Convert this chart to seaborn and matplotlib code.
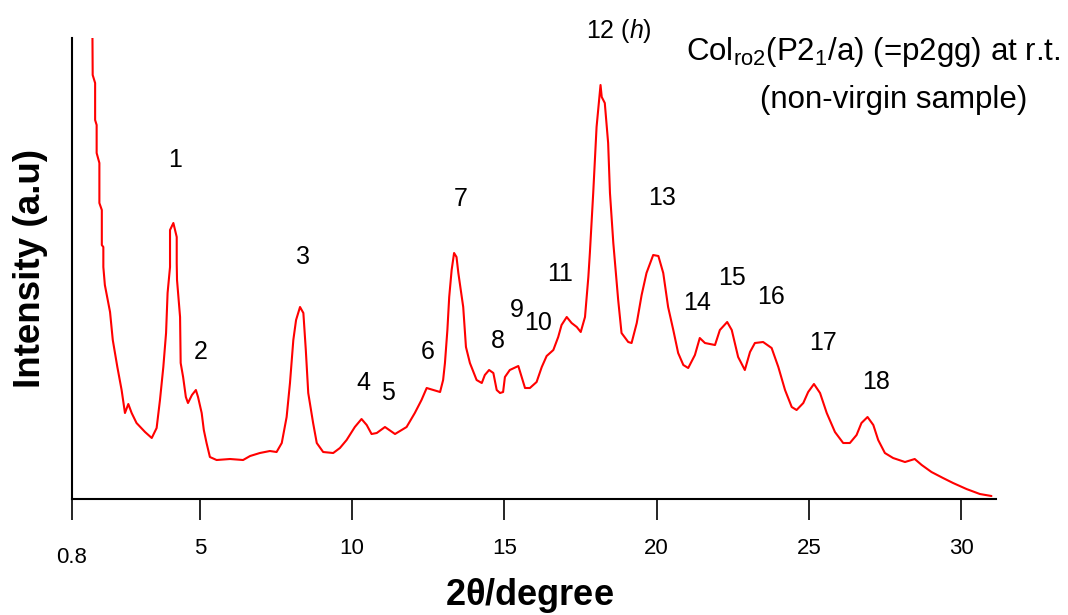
import numpy as np
import pandas as pd
import seaborn as sns
import matplotlib
matplotlib.use("Agg")
import matplotlib.pyplot as plt
import matplotlib.transforms as mtransforms

# XRD trace (2theta in degree, intensity in arbitrary units)
two_theta = [1.47, 1.48, 1.56, 1.56, 1.61, 1.61, 1.70, 1.70, 1.78, 1.78, 1.83, 1.83,
             1.88, 2.05, 2.14, 2.29, 2.43, 2.54, 2.65, 2.76, 2.92, 3.20, 3.42, 3.58,
             3.69, 3.80, 3.89, 3.94, 4.02, 4.02, 4.13, 4.24, 4.24, 4.25, 4.35, 4.37,
             4.45, 4.54, 4.61, 4.74, 4.87, 4.94, 5.06, 5.13, 5.22, 5.33, 5.55, 5.99,
             6.42, 6.65, 6.97, 7.30, 7.52, 7.69, 7.85, 7.96, 8.07, 8.16, 8.29, 8.40,
             8.48, 8.56, 8.72, 8.84, 9.05, 9.38, 9.60, 9.82, 10.09, 10.31, 10.48, 10.64,
             10.81, 11.08, 11.41, 11.79, 12.06, 12.28, 12.45, 12.89, 12.99, 13.05, 13.13,
             13.19, 13.27, 13.35, 13.43, 13.49, 13.65, 13.74, 13.87, 14.09, 14.26, 14.36,
             14.50, 14.64, 14.75, 14.86, 14.96, 15.02, 15.18, 15.46, 15.57, 15.68, 15.84,
             16.06, 16.23, 16.39, 16.61, 16.77, 16.88, 17.05, 17.21, 17.38, 17.51, 17.65,
             17.76, 17.81, 17.92, 18.03, 18.16, 18.20, 18.30, 18.41, 18.47, 18.58, 18.74,
             18.85, 19.07, 19.18, 19.35, 19.51, 19.67, 19.89, 20.06, 20.22, 20.38, 20.55,
             20.71, 20.88, 21.04, 21.26, 21.42, 21.59, 21.92, 22.08, 22.32, 22.47, 22.68,
             22.90, 23.07, 23.23, 23.50, 23.78, 24.00, 24.22, 24.44, 24.60, 24.82, 24.98,
             25.17, 25.37, 25.59, 25.86, 26.13, 26.35, 26.57, 26.73, 26.93, 27.12, 27.28,
             27.50, 27.77, 28.16, 28.48, 28.71, 29.03, 29.41, 29.74, 30.18, 30.62, 31.00]
intensity = [474, 424, 416, 379, 374, 346, 336, 296, 289, 254, 252, 232,
             214, 187, 159, 132, 109, 86, 95, 86, 76, 67, 61, 71,
             99, 132, 166, 206, 232, 269, 276, 262, 236, 219, 182, 136,
             122, 102, 96, 104, 109, 102, 86, 69, 56, 42, 39, 40,
             39, 43, 46, 48, 47, 56, 82, 116, 159, 179, 192, 186,
             149, 106, 76, 56, 47, 46, 51, 59, 72, 80, 74, 65,
             66, 72, 65, 72, 86, 99, 111, 107, 119, 136, 169,
             202, 229, 246, 242, 226, 192, 152, 136, 119, 116, 124,
             129, 126, 109, 106, 107, 122, 129, 133, 122, 111, 111,
             117, 132, 143, 149, 162, 174, 182, 176, 172, 167, 182,
             222, 246, 306, 372, 414, 402, 396, 356, 306, 256, 199,
             166, 157, 156, 176, 204, 226, 244, 243, 226, 192, 169,
             146, 134, 131, 144, 161, 156, 154, 169, 177, 169, 142,
             129, 147, 156, 157, 151, 132, 109, 92, 89, 96, 107,
             115, 106, 86, 67, 56, 56, 64, 76, 82, 74, 59,
             46, 41, 37, 40, 34, 27, 21, 16, 10, 5, 3]

# peak index labels and where they sit
peak_labels = ["1", "2", "3", "4", "5", "6", "7", "8", "9", "10", "11",
               "12 ($h$)", "13", "14", "15", "16", "17", "18"]
peak_x = [4.18, 5.04, 8.39, 10.36, 11.18, 12.49, 13.57, 14.79, 15.41, 16.10, 16.83,
          18.76, 20.18, 21.33, 22.47, 23.75, 25.46, 27.20]
peak_y = [339, 147, 242, 116, 106, 147, 300, 158, 189, 176, 225,
          468, 301, 196, 221, 202, 156, 117]

xticks = [0.8, 5, 10, 15, 20, 25, 30]

sns.set_style("white")
plt.rcParams['font.family'] = ['Liberation Sans', 'DejaVu Sans']
plt.rcParams['mathtext.fontset'] = 'custom'
plt.rcParams['mathtext.rm'] = 'Liberation Sans'
plt.rcParams['mathtext.it'] = 'Liberation Sans:italic'
plt.rcParams['mathtext.bf'] = 'Liberation Sans:bold'
plt.rcParams['text.color'] = 'black'
plt.rcParams['axes.labelcolor'] = 'black'
plt.rcParams['xtick.color'] = 'black'

df = pd.DataFrame({"two_theta": two_theta, "intensity": intensity})

fig = plt.figure(figsize=(10.68, 6.15), dpi=100)
ax = fig.add_axes([0.0674, 0.1886, 0.8652, 0.7496])

sns.lineplot(data=df, x="two_theta", y="intensity", sort=False, estimator=None,
             color="#ff0000", linewidth=1.5, ax=ax)

ax.set_xlim(0.8, 31.15)
ax.set_ylim(0, 461)

for s in ["top", "right"]:
    ax.spines[s].set_visible(False)
for s in ["left", "bottom"]:
    ax.spines[s].set_color("black")
    ax.spines[s].set_linewidth(1.5)

ax.set_yticks([])
ax.set_xticks(xticks)
ax.set_xticklabels([""] + [str(t) for t in xticks[1:]])
ax.tick_params(axis="x", bottom=True, direction="out", length=15, width=1.2,
               color="black", labelcolor="black", pad=13, labelsize=16)

trans = mtransforms.blended_transform_factory(ax.transData, ax.transAxes)
ax.text(0.8, -0.127, "0.8", transform=trans, ha="center", va="center", fontsize=16)

ax.set_xlabel(r"2$\mathbf{\theta}$/degree", fontsize=26, fontweight="bold")
ax.xaxis.label.set_va("center")
ax.xaxis.set_label_coords(0.4946, -0.210)
ax.set_ylabel("Intensity (a.u)", fontsize=26.5, fontweight="bold")
ax.yaxis.label.set_va("center")
ax.yaxis.set_label_coords(-0.0445, 0.5)

for lab, px, py in zip(peak_labels, peak_x, peak_y):
    ax.text(px, py, lab, ha="center", va="center", fontsize=18, color="black")

fig.text(0.993, 0.916, r"Col$_{\mathrm{ro2}}$(P2$_{1}$/a) (=p2gg) at r.t.",
         ha="right", va="center", fontsize=22.5)
fig.text(0.962, 0.838, "(non-virgin sample)", ha="right", va="center", fontsize=22.5)

fig.savefig("out.png", dpi=100)
